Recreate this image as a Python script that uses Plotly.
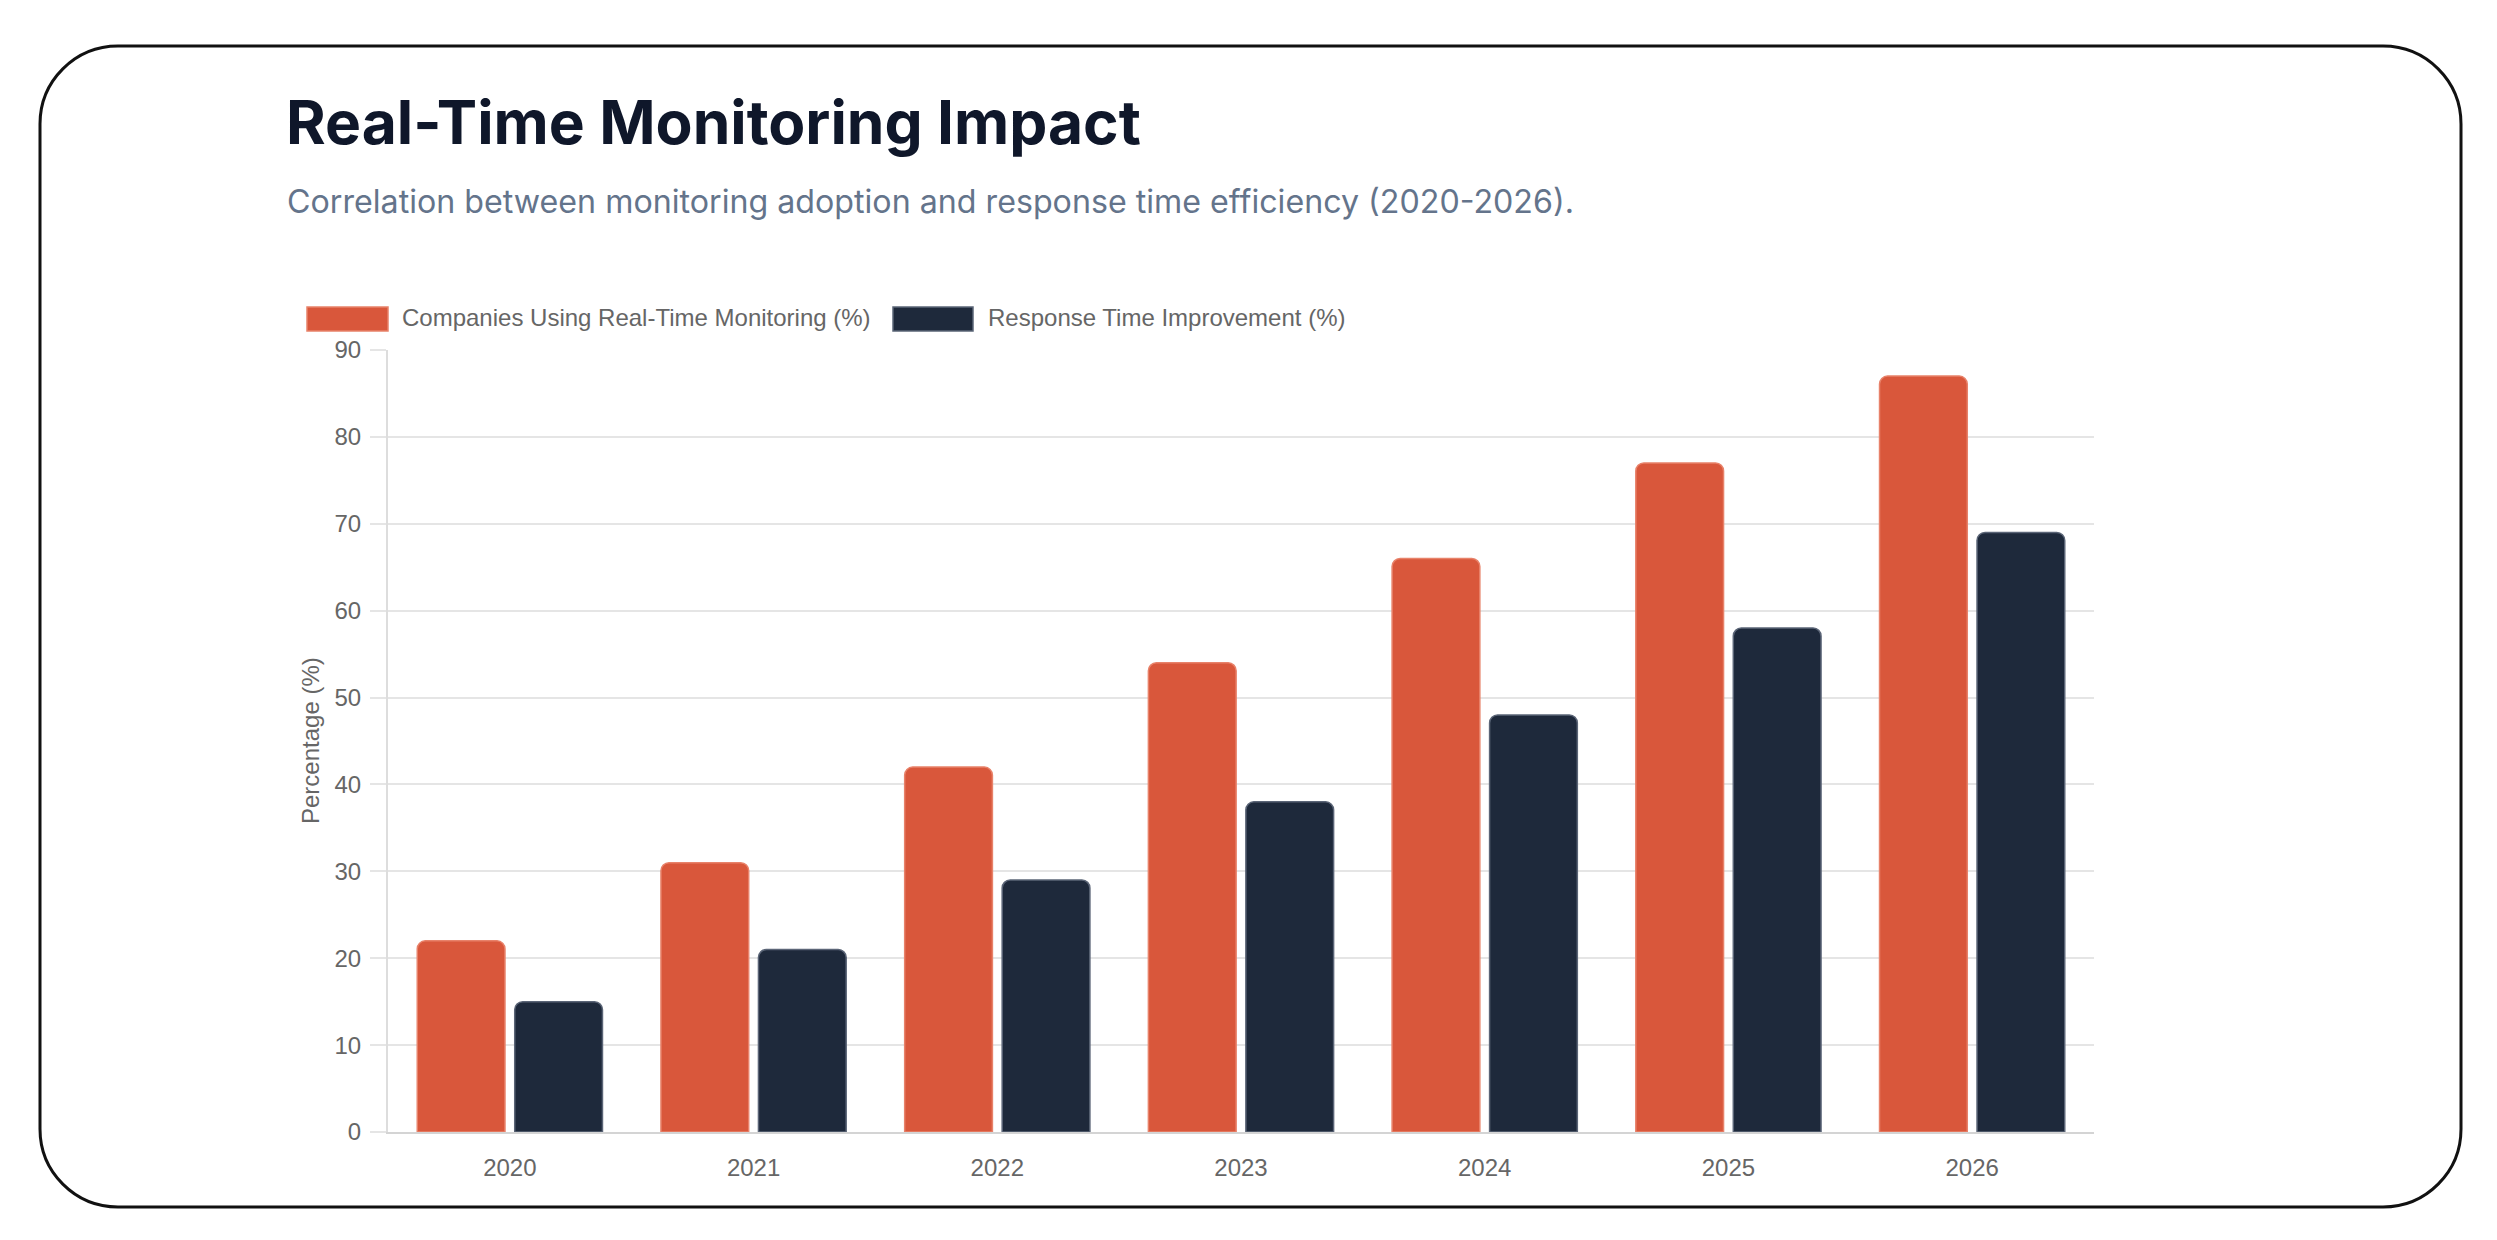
import plotly.graph_objects as go

# ---- data ----
years = ["2020", "2021", "2022", "2023", "2024", "2025", "2026"]
adoption = [22, 31, 42, 54, 66, 77, 87]
response_improvement = [15, 21, 29, 38, 48, 58, 69]
series_names = ["Companies Using Real-Time Monitoring (%)", "Response Time Improvement (%)"]
y_ticks = [0, 10, 20, 30, 40, 50, 60, 70, 80, 90]

title_text = "Real-Time Monitoring Impact"
subtitle_text = "Correlation between monitoring adoption and response time efficiency (2020-2026)."
y_title = "Percentage (%)"

# ---- styling ----
W, H = 2497, 1240
L, R, T, B = 388, 403, 350, 108
PW, PH = W - L - R, H - T - B
ORANGE = "#D9573B"
NAVY = "#1E293B"
TICK = "#666666"
GRID = "rgba(0,0,0,0.1)"
CHART_FONT = "Liberation Sans, Arial, Helvetica, sans-serif"


def px(x):
    return (x - L) / PW


def py(y):
    return (H - B - y) / PH


fig = go.Figure()
fig.add_trace(go.Bar(
    x=years, y=adoption, name=series_names[0],
    marker=dict(color=ORANGE, line=dict(color="#E8826A", width=1.5), cornerradius=8),
    showlegend=False,
))
fig.add_trace(go.Bar(
    x=years, y=response_improvement, name=series_names[1],
    marker=dict(color=NAVY, line=dict(color="#5B6577", width=1.5), cornerradius=8),
    showlegend=False,
))

# card border (rounded rectangle) in pixel units converted to paper
x0, x1, y0, y1, r = 40, 2461, 46, 1207, 78
k = 0.5523 * r
pts = [
    f"M{px(x0 + r)},{py(y0)}",
    f"L{px(x1 - r)},{py(y0)}",
    f"C{px(x1 - r + k)},{py(y0)} {px(x1)},{py(y0 + r - k)} {px(x1)},{py(y0 + r)}",
    f"L{px(x1)},{py(y1 - r)}",
    f"C{px(x1)},{py(y1 - r + k)} {px(x1 - r + k)},{py(y1)} {px(x1 - r)},{py(y1)}",
    f"L{px(x0 + r)},{py(y1)}",
    f"C{px(x0 + r - k)},{py(y1)} {px(x0)},{py(y1 - r + k)} {px(x0)},{py(y1 - r)}",
    f"L{px(x0)},{py(y0 + r)}",
    f"C{px(x0)},{py(y0 + r - k)} {px(x0 + r - k)},{py(y0)} {px(x0 + r)},{py(y0)}",
    "Z",
]
shapes = [dict(type="path", xref="paper", yref="paper", path=" ".join(pts),
               line=dict(color="#111111", width=3), fillcolor="rgba(0,0,0,0)", layer="above")]

# custom legend swatches
legend_items = [(307, 388, ORANGE, "#E8826A", 400), (893, 973, NAVY, "#5B6577", 986)]
annotations = []
for (bx0, bx1, fc, lc, tx), name in zip(legend_items, series_names):
    shapes.append(dict(type="rect", xref="paper", yref="paper",
                       x0=px(bx0), x1=px(bx1), y0=py(331), y1=py(307),
                       fillcolor=fc, line=dict(color=lc, width=1.5)))
    annotations.append(dict(text=name, xref="paper", yref="paper", x=px(tx), y=py(317),
                            xanchor="left", yanchor="middle", showarrow=False,
                            font=dict(family=CHART_FONT, size=24, color=TICK)))

annotations += [
    dict(text=f"<b>{title_text}</b>", xref="paper", yref="paper", x=px(284), y=py(122),
         xanchor="left", yanchor="middle", showarrow=False,
         font=dict(family="Inter, Noto Sans, sans-serif", size=60.5, color="#0F172A")),
    dict(text=subtitle_text, xref="paper", yref="paper", x=px(285), y=py(201),
         xanchor="left", yanchor="middle", showarrow=False,
         font=dict(family="Inter, Noto Sans, sans-serif", size=32.2, color="#64748B")),
    dict(text=y_title, xref="paper", yref="paper", x=px(310), y=py(741),
         xanchor="center", yanchor="middle", textangle=-90, showarrow=False,
         font=dict(family=CHART_FONT, size=24, color=TICK)),
]

fig.update_layout(
    width=W, height=H,
    margin=dict(l=L, r=R, t=T, b=B, autoexpand=False),
    paper_bgcolor="white", plot_bgcolor="white",
    barmode="group", bargap=0.2, bargroupgap=0.1,
    shapes=shapes, annotations=annotations,
    showlegend=False,
)
fig.update_xaxes(
    type="category", showgrid=False, showline=True, linecolor="#D4D4D4", linewidth=2,
    ticks="", tickfont=dict(family=CHART_FONT, size=24, color=TICK),
    ticklabelstandoff=13, fixedrange=True,
)
fig.update_yaxes(
    range=[0, 90], tickvals=y_ticks, showgrid=True, gridcolor=GRID, gridwidth=2,
    showline=True, linecolor="#DDDDDD", linewidth=2, zeroline=False,
    ticks="outside", ticklen=16, tickcolor=GRID, tickwidth=2,
    tickfont=dict(family=CHART_FONT, size=24, color=TICK), ticklabelstandoff=4,
    fixedrange=True,
)

fig.write_html("out.html")
